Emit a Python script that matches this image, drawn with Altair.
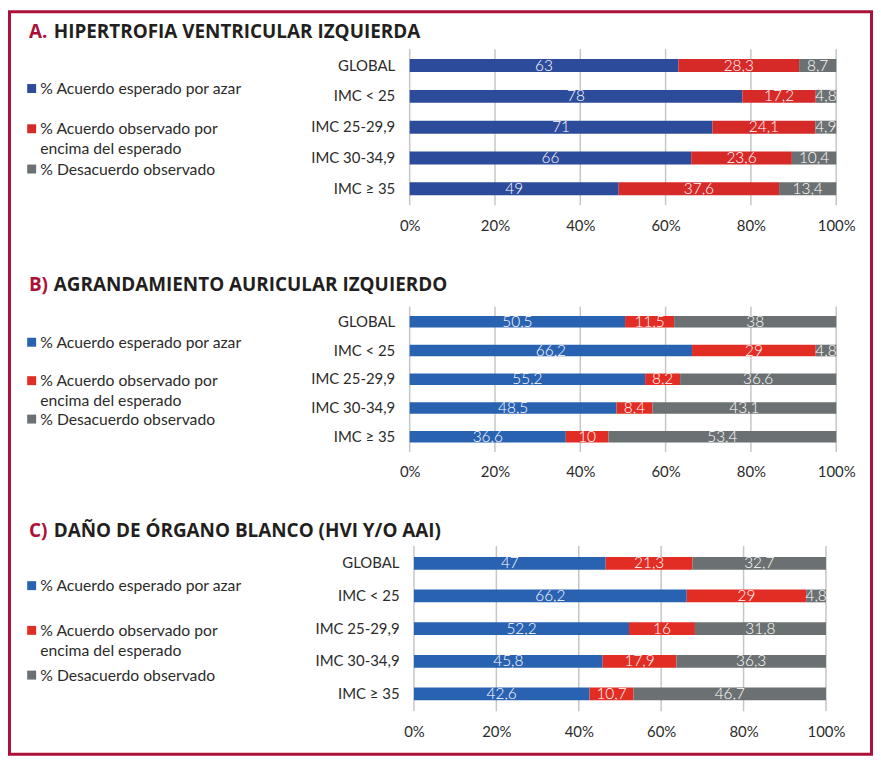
import altair as alt
import pandas as pd

# ---------------- data ----------------
categories = ["GLOBAL", "IMC < 25", "IMC 25-29,9", "IMC 30-34,9", "IMC ≥ 35"]
series = [
    "% Acuerdo esperado por azar",
    "% Acuerdo observado por encima del esperado",
    "% Desacuerdo observado",
]
series_display = [
    "% Acuerdo esperado por azar",
    "% Acuerdo observado por\nencima del esperado",
    "% Desacuerdo observado",
]
tick_values = [0, 0.2, 0.4, 0.6, 0.8, 1.0]

# Panel A - Hipertrofia ventricular izquierda
esperado_A = [63, 78, 71, 66, 49]
observado_A = [28.3, 17.2, 24.1, 23.6, 37.6]
desacuerdo_A = [8.7, 4.8, 4.9, 10.4, 13.4]

# Panel B - Agrandamiento auricular izquierdo
esperado_B = [50.5, 66.2, 55.2, 48.5, 36.6]
observado_B = [11.5, 29, 8.2, 8.4, 10]
desacuerdo_B = [38, 4.8, 36.6, 43.1, 53.4]

# Panel C - Daño de órgano blanco
esperado_C = [47, 66.2, 52.2, 45.8, 42.6]
observado_C = [21.3, 29, 16, 17.9, 10.7]
desacuerdo_C = [32.7, 4.8, 31.8, 36.3, 46.7]

panel_letters = ["A.", "B)", "C)"]
panel_titles = [
    "HIPERTROFIA VENTRICULAR IZQUIERDA",
    "AGRANDAMIENTO AURICULAR IZQUIERDO",
    "DAÑO DE ÓRGANO BLANCO (HVI Y/O AAI)",
]

# ---------------- style / layout ----------------
W, H = 867, 747
CRIMSON = "#ad1038"
TEXT = "#2b2b2b"
GRID = "#c6c6c6"
FONT = "Lato"
TITLE_FONT = "Open Sans"

colors_A = ["#2d4b9b", "#d62a29", "#6b7172"]
colors_BC = ["#2a62b2", "#e22d25", "#6b7172"]

layouts = [
    dict(x=(402.5, 831.5), y=(38.7, 193.7), pad=0.58, title_y=26.2, legend_y=(77.3, 158.3)),
    dict(x=(402.5, 831.5), y=(297.5, 442.0), pad=0.595, title_y=280.5, legend_y=(332.5, 409.8)),
    dict(x=(406.8, 821.2), y=(538.4, 702.7), pad=0.61, title_y=528.8, legend_y=(577.3, 667.3)),
]
LEG_SQ_X, LEG_TXT_X = 22.3, 31.0
TITLE_LETTER_X, TITLE_TXT_X = 19.5, 44.5


def panel(esperado, observado, desacuerdo, colors, lay, letter, title):
    rows = []
    for i, c in enumerate(categories):
        for j, (s, vals) in enumerate(zip(series, [esperado, observado, desacuerdo])):
            rows.append({"cat": c, "series": s, "order": j, "value": vals[i]})
    df = pd.DataFrame(rows)

    xs = alt.Scale(domain=[0, 1], range=list(lay["x"]), nice=False, zero=False)
    ys = alt.Scale(domain=categories, range=list(lay["y"]),
                   paddingInner=lay["pad"], paddingOuter=lay["pad"] / 2)
    cs = alt.Scale(domain=series, range=colors)

    base = alt.Chart(df).transform_stack(
        stack="value", groupby=["cat"], as_=["x0", "x1"], offset="normalize",
        sort=[alt.SortField("order", order="ascending")]
    ).transform_calculate(
        mid="(datum.x0 + datum.x1) / 2",
        label="replace(toString(datum.value), '.', ',')",
    )

    grid = alt.Chart(pd.DataFrame({"t": tick_values})).mark_rule(
        color=GRID, strokeWidth=1.5
    ).encode(
        x=alt.X("t:Q", scale=xs, axis=None),
        y=alt.value(lay["y"][0] - 1),
        y2=alt.value(lay["y"][1] + 1),
    )

    bars = base.mark_bar().encode(
        x=alt.X("x0:Q", scale=xs,
                axis=alt.Axis(orient="bottom", offset=-(H - lay["y"][1]), values=tick_values,
                              format=".0%", grid=False, domain=False, ticks=False,
                              labelPadding=14, labelFontSize=15, labelFont=FONT,
                              labelColor=TEXT, title=None, labelFlush=False)),
        x2="x1:Q",
        y=alt.Y("cat:N", scale=ys, sort=categories,
                axis=alt.Axis(orient="left", offset=-lay["x"][0], grid=False, domain=False,
                              ticks=False, labelPadding=15, labelFontSize=15, labelFont=FONT,
                              labelColor=TEXT, title=None)),
        color=alt.Color("series:N", scale=cs, legend=None),
    )

    labels = base.mark_text(color="white", font=FONT, fontWeight=300, fontSize=15.5,
                            baseline="middle").encode(
        x=alt.X("mid:Q", scale=xs, axis=None),
        y=alt.Y("cat:N", scale=ys, sort=categories, axis=None),
        text="label:N",
    )

    leg_df = pd.DataFrame({"series": series, "display": series_display})
    leg_y = alt.Y("series:N", sort=series,
                  scale=alt.Scale(type="point", domain=series, range=list(lay["legend_y"]),
                                  padding=0),
                  axis=None)
    leg_sq = alt.Chart(leg_df).mark_square(size=81, opacity=1).encode(
        x=alt.value(LEG_SQ_X), y=leg_y,
        color=alt.Color("series:N", scale=cs, legend=None),
    )
    leg_txt = alt.Chart(leg_df).mark_text(
        align="left", baseline="alphabetic", dy=5.5, font=FONT, fontSize=15.8,
        color=TEXT, lineBreak="\n", lineHeight=20
    ).encode(x=alt.value(LEG_TXT_X), y=leg_y, text="display:N")

    tdf = pd.DataFrame({"letter": [letter], "title": [title]})
    t1 = alt.Chart(tdf).mark_text(
        align="left", baseline="alphabetic", font=TITLE_FONT, fontWeight="bold",
        fontSize=19, color=CRIMSON
    ).encode(x=alt.value(TITLE_LETTER_X), y=alt.value(lay["title_y"]), text="letter:N")
    t2 = alt.Chart(tdf).mark_text(
        align="left", baseline="alphabetic", font=TITLE_FONT, fontWeight="bold",
        fontSize=19, color="#231f20"
    ).encode(x=alt.value(TITLE_TXT_X), y=alt.value(lay["title_y"]), text="title:N")

    return [grid, bars, labels, leg_sq, leg_txt, t1, t2]


layers = []
layers += panel(esperado_A, observado_A, desacuerdo_A, colors_A, layouts[0], panel_letters[0], panel_titles[0])
layers += panel(esperado_B, observado_B, desacuerdo_B, colors_BC, layouts[1], panel_letters[1], panel_titles[1])
layers += panel(esperado_C, observado_C, desacuerdo_C, colors_BC, layouts[2], panel_letters[2], panel_titles[2])

chart = alt.layer(*layers).resolve_scale(
    x="independent", y="independent", color="independent"
).properties(
    width=W, height=H, padding=1.5, background="white"
).configure_view(
    stroke=CRIMSON, strokeWidth=3, fill="white"
)

chart.save("out.html", embed_options={"renderer": "svg", "actions": False})
